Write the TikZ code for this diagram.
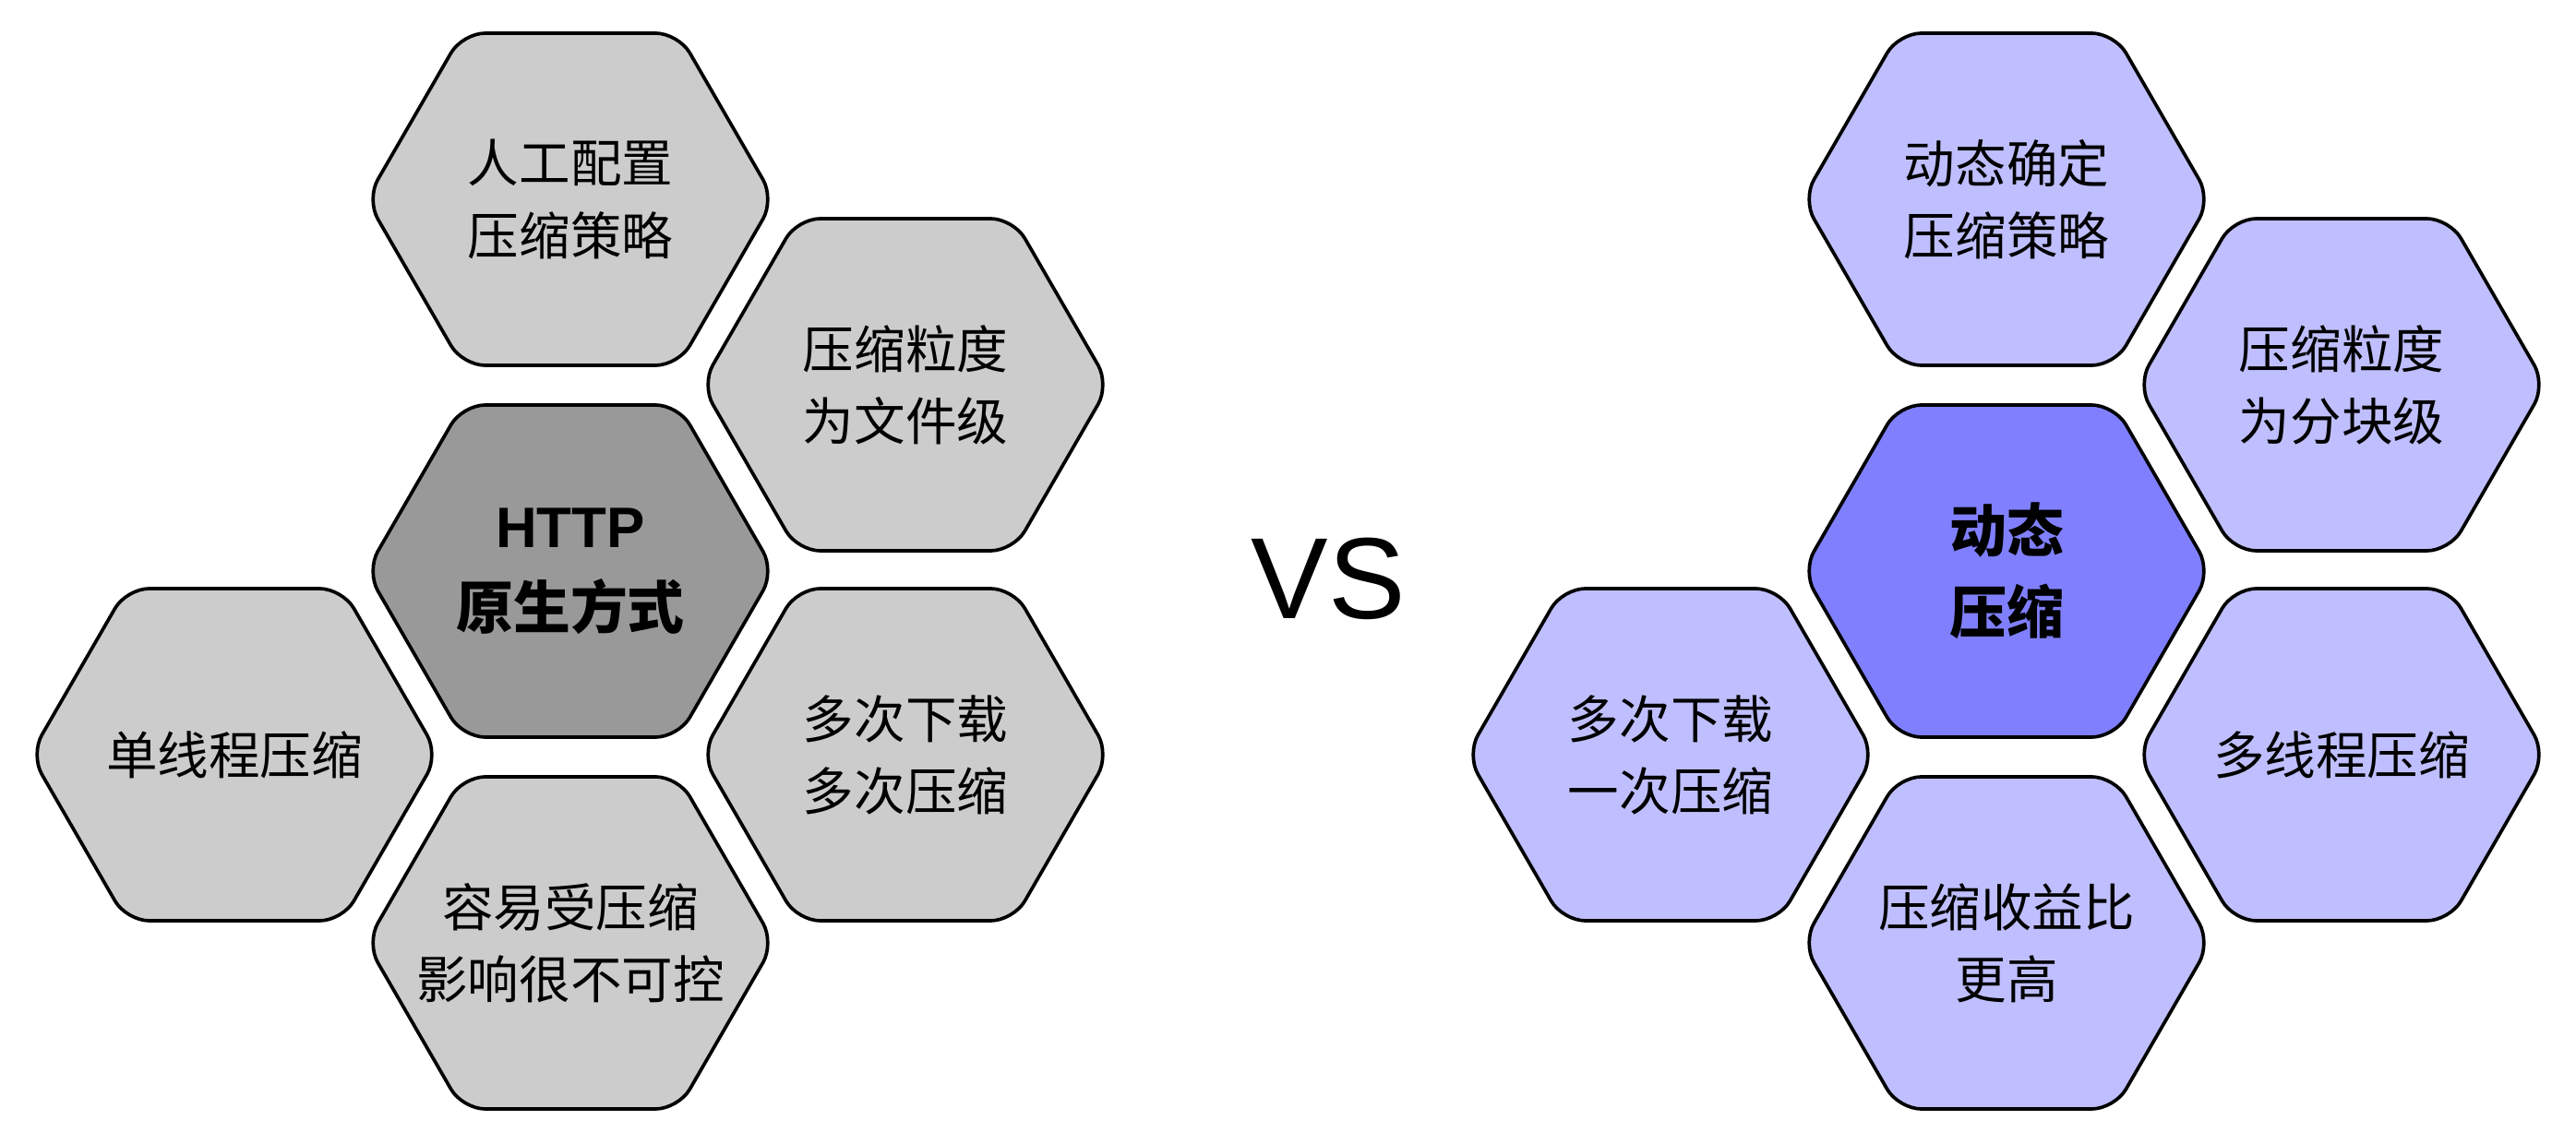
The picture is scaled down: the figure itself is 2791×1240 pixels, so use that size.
\documentclass[tikz,border=0pt]{standalone}
\usepackage{fontspec}
\setmainfont{Noto Sans CJK SC}
\newfontfamily\latfont{Liberation Sans}
\definecolor{greylight}{HTML}{CCCCCC}
\definecolor{greydark}{HTML}{999999}
\definecolor{lavlight}{HTML}{BFBFFF}
\definecolor{lavdark}{HTML}{8080FF}
\tikzset{
  hexline/.style={draw=black, line width=1.05pt, rounded corners=7pt},
  celltext/.style={align=center, inner sep=0pt, font=\fontsize{15.8pt}{22.2pt}\selectfont},
  boldtext/.style={align=center, inner sep=0pt, font=\fontsize{17.6pt}{25pt}\selectfont\bfseries},
  vstext/.style={inner sep=0pt, font=\fontsize{35.6pt}{40pt}\selectfont\latfont}
}
\newcommand\hexcell[6]{% name, x, y, fill, style, text
  \path[hexline, fill=#4] (#2-221,#3) -- (#2-117,#3-180) -- (#2+117,#3-180)
    -- (#2+221,#3) -- (#2+117,#3+180) -- (#2-117,#3+180) -- cycle;
  \node[#5] (#1) at (#2,#3) {#6};}
\begin{document}
\begin{tikzpicture}[x=0.01cm, y=-0.01cm]
\useasboundingbox (0,0) rectangle (2791,1240);
% left group
\hexcell{l1}{618}{216}{greylight}{celltext}{人工配置\\压缩策略}
\hexcell{l2}{981}{417}{greylight}{celltext}{压缩粒度\\为文件级}
\hexcell{l3}{618}{619}{greydark}{boldtext}{{\latfont HTTP}\\原生方式}
\hexcell{l4}{254}{818}{greylight}{celltext}{单线程压缩}
\hexcell{l5}{981}{818}{greylight}{celltext}{多次下载\\多次压缩}
\hexcell{l6}{618}{1022}{greylight}{celltext}{容易受压缩\\影响很不可控}
% VS
\node[vstext] (vs) at (1439,627) {VS};
% right group
\hexcell{r1}{2174}{216}{lavlight}{celltext}{动态确定\\压缩策略}
\hexcell{r2}{2537}{417}{lavlight}{celltext}{压缩粒度\\为分块级}
\hexcell{r3}{2174}{619}{lavdark}{boldtext}{动态\\压缩}
\hexcell{r4}{1810}{818}{lavlight}{celltext}{多次下载\\一次压缩}
\hexcell{r5}{2537}{818}{lavlight}{celltext}{多线程压缩}
\hexcell{r6}{2174}{1022}{lavlight}{celltext}{压缩收益比\\更高}
\end{tikzpicture}
\end{document}
